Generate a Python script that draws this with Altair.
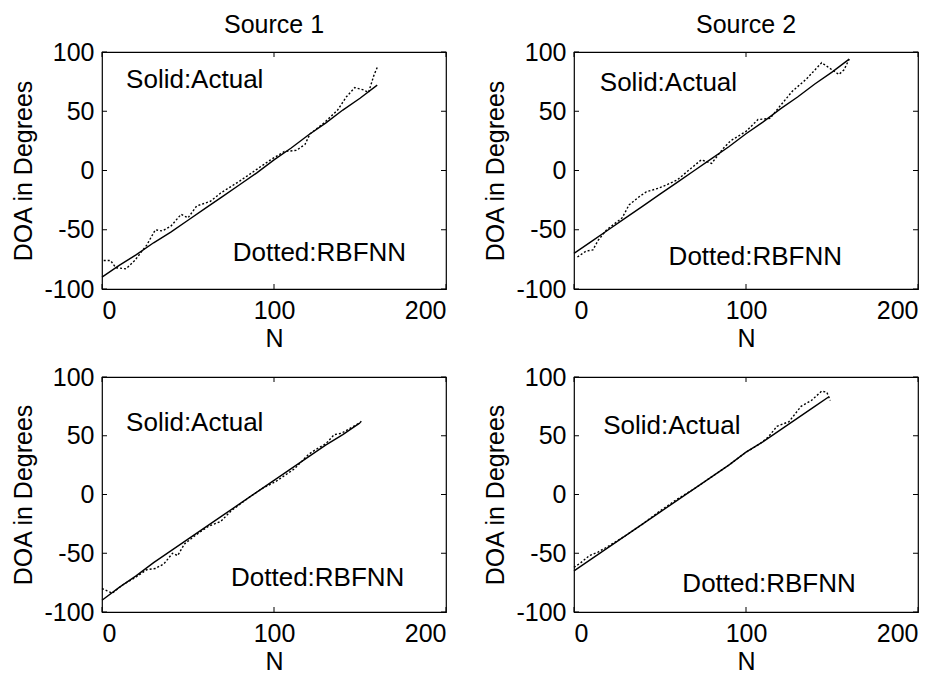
import altair as alt
import pandas as pd

FONT = "Liberation Sans"
FS = 25
FS_NOTE = 26

# ---------------- data ----------------
x_ticks = [0, 100, 200]
y_ticks = [-100, -50, 0, 50, 100]

# Source 1, upper panel
tl_act_n = [0, 10, 20, 30, 40, 50, 60, 70, 80, 90, 100, 110, 120, 130, 140, 150, 160]
tl_act_v = [-90, -80, -71, -61, -52, -42, -32, -22, -12, -2, 9, 19, 30, 40, 51, 61, 72]
tl_dot_n = [1, 5, 8, 14, 19, 26, 31, 35, 40, 46, 50, 55, 63, 69, 80, 90, 94, 98, 106, 113, 118, 121, 129, 137, 142, 147, 152, 155, 158, 160]
tl_dot_v = [-76, -76, -82, -83, -76, -63, -50, -51, -47, -37, -40, -30, -26, -19, -9, 1, 5, 9, 16, 17, 22, 31, 40, 51, 62, 70, 68, 66, 80, 87]

# Source 2, upper panel
tr_act_n = [0, 10, 20, 30, 40, 50, 60, 70, 80, 90, 100, 110, 120, 130, 140, 150, 160]
tr_act_v = [-70, -60, -50, -40, -30, -20, -10, 0, 10, 20, 31, 41, 52, 62, 73, 83, 94]
tr_dot_n = [2, 7, 11, 14, 19, 28, 32, 38, 42, 49, 54, 60, 69, 74, 80, 87, 91, 100, 107, 114, 119, 127, 135, 144, 150, 154, 157, 160]
tr_dot_v = [-73, -68, -67, -59, -50, -40, -29, -22, -18, -15, -12, -8, 3, 9, 6, 19, 25, 33, 43, 44, 53, 67, 77, 91, 85, 81, 85, 94]

# Source 1, lower panel
bl_act_n = [0, 10, 20, 30, 40, 50, 60, 70, 80, 90, 100, 110, 120, 130, 140, 150]
bl_act_v = [-90, -79, -69, -58, -48, -38, -28, -18, -8, 2, 12, 22, 32, 42, 51, 61]
bl_dot_n = [0, 3, 6, 12, 20, 26, 31, 36, 41, 44, 48, 55, 62, 69, 75, 85, 93, 101, 112, 120, 124, 130, 135, 139, 145, 150, 151]
bl_dot_v = [-80, -82, -84, -77, -70, -64, -63, -59, -50, -52, -42, -34, -27, -23, -14, -3, 5, 11, 22, 34, 38, 43, 51, 52, 57, 61, 63]

# Source 2, lower panel
br_act_n = [0, 10, 20, 30, 40, 50, 60, 70, 80, 90, 100, 110, 120, 130, 140, 148]
br_act_v = [-65, -55, -45, -35, -25, -15, -5, 5, 15, 25, 36, 45, 55, 65, 75, 83]
br_dot_n = [0, 4, 9, 14, 20, 30, 40, 50, 60, 70, 80, 90, 100, 108, 113, 118, 125, 132, 138, 144, 147, 149]
br_dot_v = [-62, -58, -52, -49, -44, -35, -25, -14, -4, 5, 15, 25, 36, 43, 49, 58, 62, 75, 80, 88, 87, 80]

# annotation anchors (data coords: N, DOA) for "Solid:Actual" and "Dotted:RBFNN"
tl_notes = ([14, 76], [76, -70])
tr_notes = ([15, 74], [55, -73])
bl_notes = ([14, 61], [75, -71])
br_notes = ([17, 58], [63, -76])

W = 344
H_TOP = 237
H_BOT = 235

LABEL_EXPR = "replace(datum.label, '\u2212', '-')"


def panel(act_n, act_v, dot_n, dot_v, notes, H, title=None):
    xs = alt.Scale(domain=[0, 200], nice=False, zero=False)
    ys = alt.Scale(domain=[-100, 100], nice=False, zero=False)
    xax = alt.Axis(values=x_ticks, title="N", labelFontSize=FS, titleFontSize=FS,
                   labelFont=FONT, titleFont=FONT, labelColor="black", titleColor="black",
                   titleFontWeight="normal", ticks=False, domain=False, grid=False,
                   labelPadding=9, titlePadding=3, labelExpr=LABEL_EXPR)
    yax = alt.Axis(values=y_ticks, title="DOA in Degrees", labelFontSize=FS, titleFontSize=FS,
                   labelFont=FONT, titleFont=FONT, labelColor="black", titleColor="black",
                   titleFontWeight="normal", ticks=False, domain=False, grid=False,
                   labelPadding=8, titlePadding=7, labelExpr=LABEL_EXPR)

    X = lambda f: alt.X(f, scale=xs, axis=xax)
    Y = lambda f: alt.Y(f, scale=ys, axis=yax)

    solid = alt.Chart(pd.DataFrame({"n": act_n, "v": act_v})).mark_line(
        color="black", strokeWidth=1.4
    ).encode(x=X("n:Q"), y=Y("v:Q"))

    dotted = alt.Chart(pd.DataFrame({"n": dot_n, "v": dot_v})).mark_line(
        color="black", strokeWidth=1.4, strokeDash=[2, 2]
    ).encode(x=X("n:Q"), y=Y("v:Q"))

    txt = alt.Chart(pd.DataFrame({
        "n": [notes[0][0], notes[1][0]],
        "v": [notes[0][1], notes[1][1]],
        "t": ["Solid:Actual", "Dotted:RBFNN"],
    })).mark_text(align="left", baseline="middle", fontSize=FS_NOTE, font=FONT, color="black").encode(
        x=X("n:Q"), y=Y("v:Q"), text="t:N")

    xt = pd.DataFrame({"n": x_ticks})
    yt = pd.DataFrame({"v": y_ticks})
    tick_b = alt.Chart(xt).mark_rule(color="black", strokeWidth=1).encode(
        x=X("n:Q"), y=alt.value(H), y2=alt.value(H - 5))
    tick_t = alt.Chart(xt).mark_rule(color="black", strokeWidth=1).encode(
        x=X("n:Q"), y=alt.value(0), y2=alt.value(5))
    tick_l = alt.Chart(yt).mark_rule(color="black", strokeWidth=1).encode(
        y=Y("v:Q"), x=alt.value(0), x2=alt.value(5))
    tick_r = alt.Chart(yt).mark_rule(color="black", strokeWidth=1).encode(
        y=Y("v:Q"), x=alt.value(W - 5), x2=alt.value(W))

    ch = alt.layer(solid, dotted, txt, tick_b, tick_t, tick_l, tick_r).properties(width=W, height=H)
    if title is not None:
        ch = ch.properties(title=alt.TitleParams(title, fontSize=FS, font=FONT, fontWeight="normal",
                                                 color="black", offset=2, anchor="middle"))
    return ch


p1 = panel(tl_act_n, tl_act_v, tl_dot_n, tl_dot_v, tl_notes, H_TOP, "Source 1")
p2 = panel(tr_act_n, tr_act_v, tr_dot_n, tr_dot_v, tr_notes, H_TOP, "Source 2")
p3 = panel(bl_act_n, bl_act_v, bl_dot_n, bl_dot_v, bl_notes, H_BOT)
p4 = panel(br_act_n, br_act_v, br_dot_n, br_dot_v, br_notes, H_BOT)

chart = alt.concat(p1, p2, p3, p4, columns=2, spacing={"row": 88, "column": 128},
                   bounds="flush").properties(
    padding={"left": 3, "top": 4, "right": 0, "bottom": 0},
    background="white",
).configure_view(stroke="black", strokeWidth=1.2)

chart.save("out.html", embed_options={"renderer": "svg", "actions": False})
